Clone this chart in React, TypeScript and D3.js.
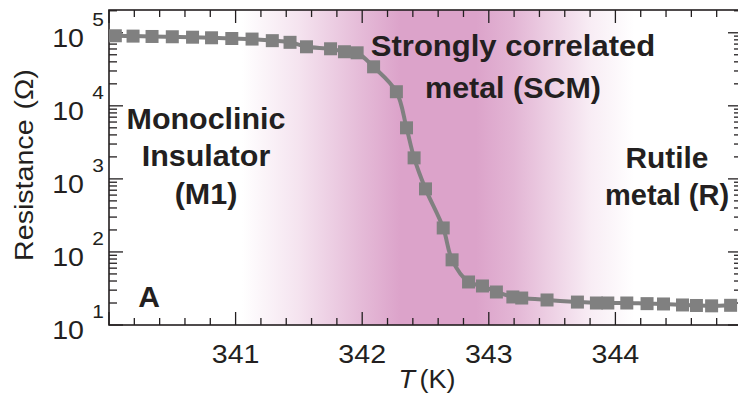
import React from "react";
import * as d3 from "d3";

// Resistance vs. temperature across the insulator-metal transition
const temps = [
  340.05, 340.19, 340.34, 340.5, 340.66, 340.81, 340.97, 341.13, 341.29, 341.43,
  341.56, 341.75, 341.86, 341.96, 342.09, 342.27, 342.35, 342.41, 342.5, 342.64,
  342.71, 342.84, 342.95, 343.06, 343.19, 343.26, 343.46, 343.7, 343.85, 343.94,
  344.09, 344.25, 344.38, 344.53, 344.64, 344.76, 344.91,
];
const resistance = [
  91000, 90000, 89000, 88200, 87000, 85400, 83500, 82000, 78000, 74000,
  64300, 60400, 55000, 53200, 34200, 15600, 5000, 1940, 730, 213,
  78, 38.8, 34.2, 28.3, 24.2, 23.4, 22.0, 20.6, 20.0, 20.0,
  20.0, 19.6, 19.4, 18.8, 18.5, 18.3, 18.6,
];

const xTickValues = [341, 342, 343, 344];
const yDecades = [1, 2, 3, 4, 5];

// Shaded correlated-metal band: temperature stops and relative intensity
const bandTemps = [341.05, 341.5, 342.0, 342.3, 342.9, 343.2, 343.5, 343.8, 344.15];
const bandLevels = [0, 0.3, 0.75, 1, 1, 0.8, 0.5, 0.2, 0];

const W = 738;
const H = 401;
const left = 109;
const right = 742;
const top = 10;
const bottom = 325;

const ink = "#231f20";
const markerColor = "#808080";
const bandColor = "#dca3ca";
const font = "'Liberation Sans', Arial, Helvetica, sans-serif";

function Label({
  x,
  y,
  children,
  size,
  bold = false,
  anchor = "middle",
  sx = 1.08,
}: {
  x: number;
  y: number;
  children: React.ReactNode;
  size: number;
  bold?: boolean;
  anchor?: "start" | "middle" | "end";
  sx?: number;
}) {
  return (
    <text
      transform={`translate(${x},${y}) scale(${sx},1)`}
      textAnchor={anchor}
      fontFamily={font}
      fontSize={size}
      fontWeight={bold ? "bold" : "normal"}
      fill={ink}
    >
      {children}
    </text>
  );
}

export default function App() {
  const x = d3.scaleLinear().domain([340, 345]).range([left, right]);
  const y = d3.scaleLog().domain([10, 2.05e5]).range([bottom, top]);

  const data = temps.map((t, i) => ({ t, r: resistance[i] }));
  const line = d3
    .line<{ t: number; r: number }>()
    .x((d) => x(d.t))
    .y((d) => y(d.r))
    .curve(d3.curveCatmullRom.alpha(0.5));

  const xMinor = d3.range(340, 345.0001, 0.2).map((v) => +v.toFixed(1));
  const xMajor = d3.range(340, 346, 1);

  const yTicks: { v: number; major: boolean }[] = [];
  yDecades.forEach((d) => {
    for (let m = 1; m <= 9; m++) {
      const v = m * Math.pow(10, d);
      if (v <= 2.05e5) yTicks.push({ v, major: m === 1 });
    }
  });

  const [x0, x1] = x.range();
  const ms = 13;

  return (
    <svg
      width={W}
      height={H}
      viewBox={`0 0 ${W} ${H}`}
      style={{ position: "absolute", left: 0, top: 0, background: "#fff" }}
    >
      <defs>
        <linearGradient id="band" gradientUnits="userSpaceOnUse" x1={x0} x2={x1} y1={0} y2={0}>
          {bandTemps.map((t, i) => (
            <stop
              key={i}
              offset={(x(t) - x0) / (x1 - x0)}
              stopColor={bandColor}
              stopOpacity={bandLevels[i]}
            />
          ))}
        </linearGradient>
        <clipPath id="plot">
          <rect x={left} y={top} width={right - left} height={bottom - top} />
        </clipPath>
      </defs>

      <rect x={left} y={top} width={right - left} height={bottom - top} fill="url(#band)" />

      {/* frame */}
      <rect
        x={left}
        y={top}
        width={right - left}
        height={bottom - top}
        fill="none"
        stroke={ink}
        strokeWidth={1.6}
      />

      {/* x ticks, bottom and top */}
      {xMinor.map((v, i) => {
        const major = xMajor.some((m) => Math.abs(m - v) < 1e-6);
        const len = major ? 13 : 7;
        return (
          <g key={i} stroke={ink} strokeWidth={1.3}>
            <line x1={x(v)} x2={x(v)} y1={bottom} y2={bottom - len} />
            <line x1={x(v)} x2={x(v)} y1={top} y2={top + len} />
          </g>
        );
      })}

      {/* y ticks, left and right */}
      {yTicks.map((t, i) => {
        const len = t.major ? 14 : 8;
        return (
          <g key={i} stroke={ink} strokeWidth={1.3}>
            <line x1={left} x2={left + len} y1={y(t.v)} y2={y(t.v)} />
            <line x1={right} x2={right - len} y1={y(t.v)} y2={y(t.v)} />
          </g>
        );
      })}

      {/* data */}
      <g clipPath="url(#plot)">
        <path d={line(data) ?? ""} fill="none" stroke={markerColor} strokeWidth={4} />
        {data.map((d, i) => (
          <rect
            key={i}
            x={x(d.t) - ms / 2}
            y={y(d.r) - ms / 2}
            width={ms}
            height={ms}
            fill={markerColor}
          />
        ))}
      </g>

      {/* x tick labels */}
      {xTickValues.map((v) => (
        <Label key={v} x={x(v)} y={363} size={26} sx={1.1}>
          {v}
        </Label>
      ))}

      {/* y tick labels: 10 with exponent */}
      {yDecades.map((d) => (
        <g key={d}>
          <Label x={84} y={y(Math.pow(10, d)) + 14} size={26} anchor="end" sx={1.1}>
            10
          </Label>
          <Label x={104} y={y(Math.pow(10, d)) - 7} size={19} anchor="end" sx={1.1}>
            {d}
          </Label>
        </g>
      ))}

      {/* axis titles */}
      <text
        transform={`translate(33,165) rotate(-90) scale(1.1,1)`}
        textAnchor="middle"
        fontFamily={font}
        fontSize={26}
        fill={ink}
      >
        <tspan>Resistance</tspan>
        <tspan dx={9}>(Ω)</tspan>
      </text>
      <text
        transform={`translate(427,388) scale(1.08,1)`}
        textAnchor="middle"
        fontFamily={font}
        fontSize={25}
        fill={ink}
      >
        <tspan fontStyle="italic">T</tspan>
        <tspan dx={4}>(K)</tspan>
      </text>

      {/* phase labels */}
      <Label x={206} y={129} size={29} bold sx={1.05}>Monoclinic</Label>
      <Label x={206} y={166} size={29} bold sx={1.05}>Insulator</Label>
      <Label x={206} y={204} size={29} bold sx={1.05}>(M1)</Label>

      <Label x={513} y={56} size={29} bold sx={1.07}>Strongly correlated</Label>
      <Label x={513} y={98} size={29} bold sx={1.05}>metal (SCM)</Label>

      <Label x={667} y={168} size={29} bold sx={1.03}>Rutile</Label>
      <Label x={667} y={205} size={29} bold sx={1.0}>metal (R)</Label>

      <Label x={149} y={307} size={30} bold anchor="middle" sx={1}>A</Label>
    </svg>
  );
}
